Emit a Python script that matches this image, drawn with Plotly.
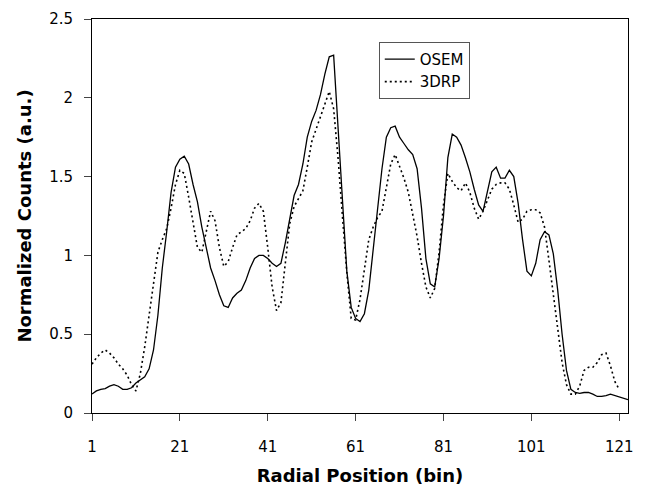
import plotly.graph_objects as go

bins = list(range(1, 124))

osem = [0.12, 0.14, 0.15, 0.155, 0.17, 0.18, 0.17, 0.15, 0.15, 0.16,
        0.19, 0.21, 0.23, 0.28, 0.40, 0.62, 0.92, 1.15, 1.40, 1.56,
        1.61, 1.63, 1.58, 1.45, 1.34, 1.18, 1.05, 0.92, 0.84, 0.75,
        0.68, 0.67, 0.73, 0.76, 0.78, 0.84, 0.92, 0.98, 1.00, 1.00,
        0.98, 0.95, 0.93, 0.95, 1.08, 1.24, 1.38, 1.45, 1.58, 1.75,
        1.85, 1.92, 2.02, 2.15, 2.26, 2.27, 1.82, 1.31, 0.90, 0.67,
        0.60, 0.58, 0.63, 0.78, 1.05, 1.30, 1.55, 1.75, 1.81, 1.82,
        1.75, 1.71, 1.67, 1.64, 1.55, 1.30, 0.98, 0.82, 0.80, 0.98,
        1.25, 1.62, 1.77, 1.75, 1.70, 1.62, 1.53, 1.42, 1.32, 1.28,
        1.40, 1.53, 1.56, 1.49, 1.49, 1.54, 1.50, 1.33, 1.10, 0.90,
        0.87, 0.95, 1.10, 1.15, 1.13, 1.01, 0.78, 0.50, 0.27, 0.15,
        0.13, 0.125, 0.13, 0.13, 0.12, 0.105, 0.105, 0.11, 0.12, 0.11,
        0.10, 0.09, 0.085]

drp = [0.31, 0.35, 0.38, 0.40, 0.38, 0.35, 0.31, 0.28, 0.24, 0.18,
       0.14, 0.25, 0.42, 0.62, 0.84, 1.02, 1.10, 1.17, 1.30, 1.45,
       1.54, 1.52, 1.37, 1.20, 1.05, 1.02, 1.16, 1.28, 1.22, 1.05,
       0.93, 0.96, 1.05, 1.13, 1.15, 1.17, 1.22, 1.30, 1.33, 1.28,
       1.05, 0.80, 0.65, 0.70, 0.95, 1.20, 1.31, 1.36, 1.41, 1.56,
       1.72, 1.80, 1.88, 1.96, 2.04, 1.93, 1.62, 1.25, 0.89, 0.60,
       0.59, 0.72, 0.92, 1.10, 1.18, 1.24, 1.28, 1.43, 1.58, 1.64,
       1.57, 1.49, 1.40, 1.26, 1.12, 0.95, 0.80, 0.73, 0.79, 1.02,
       1.32, 1.52, 1.47, 1.43, 1.41, 1.46, 1.40, 1.30, 1.23, 1.28,
       1.35, 1.42, 1.45, 1.46, 1.46, 1.42, 1.32, 1.21, 1.23, 1.28,
       1.29, 1.29, 1.27, 1.18, 0.97, 0.76, 0.53, 0.32, 0.18, 0.12,
       0.12, 0.17, 0.27, 0.29, 0.29, 0.32, 0.37, 0.38, 0.30, 0.20,
       0.15, None, None]

x_ticks = [1, 21, 41, 61, 81, 101, 121]
y_ticks = [0, 0.5, 1, 1.5, 2, 2.5]
y_tick_labels = ["0", "0.5", "1", "1.5", "2", "2.5"]

FONT = "DejaVu Sans, Liberation Sans, Arial, sans-serif"

fig = go.Figure()
fig.add_trace(go.Scatter(x=bins, y=osem, mode="lines", name="OSEM",
                         line=dict(color="black", width=1.3)))
fig.add_trace(go.Scatter(x=bins, y=drp, mode="lines", name="3DRP",
                         line=dict(color="black", width=1.6, dash="2px,3px")))

# page body adds an 8px offset, so the figure is sized to fit the 648x491 window
fig.update_layout(
    width=640, height=483,
    margin=dict(l=84, r=20, t=11, b=78),
    paper_bgcolor="white", plot_bgcolor="white",
    font=dict(family=FONT, size=15, color="black"),
    showlegend=True,
    legend=dict(x=0.535, y=0.942, xanchor="left", yanchor="top",
                bgcolor="white", bordercolor="#555555", borderwidth=1,
                font=dict(size=15), tracegroupgap=0),
)

fig.update_xaxes(
    range=[1, 123], tickmode="array", tickvals=x_ticks,
    ticks="outside", ticklen=7, tickcolor="#444444",
    ticklabelstandoff=13, automargin=False,
    showline=True, linecolor="black", linewidth=1, mirror=True,
    showgrid=False, zeroline=False,
    tickfont=dict(size=15),
    title=dict(text="<b>Radial Position (bin)</b>", font=dict(size=18), standoff=14),
)
fig.update_yaxes(
    range=[0, 2.5], tickmode="array", tickvals=y_ticks, ticktext=y_tick_labels,
    ticks="outside", ticklen=7, tickcolor="#444444",
    ticklabelstandoff=8, automargin=False,
    showline=True, linecolor="black", linewidth=1, mirror=True,
    showgrid=False, zeroline=False,
    tickfont=dict(size=15),
    title=dict(text="<b>Normalized Counts (a.u.)</b>", font=dict(size=18), standoff=12),
)

fig.write_html("out.html")
